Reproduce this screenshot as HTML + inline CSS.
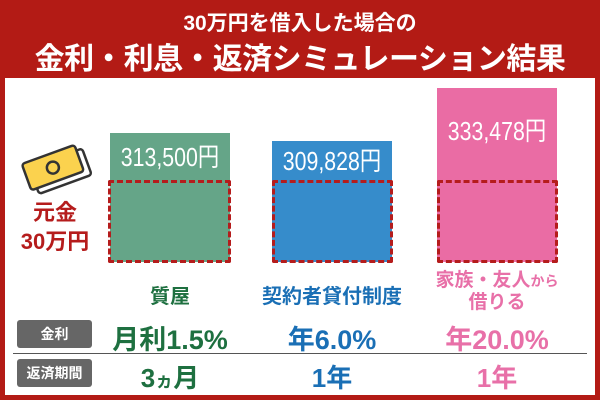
<!DOCTYPE html>
<html><head><meta charset="utf-8"><style>
body{margin:0;width:600px;height:400px;overflow:hidden;background:#b31b15;font-family:"Liberation Sans","Noto Sans CJK JP",sans-serif;font-weight:bold}
.a{position:absolute}
.t{color:#fff;text-align:center;width:600px;left:0}
.w{left:5px;top:78px;width:590px;height:317px;background:#fff}
.bar{position:absolute;color:#fff;font-weight:normal;font-size:22px;text-align:center}
.bar span{display:inline-block;transform:scaleX(0.82);font-size:26px}
.d{position:absolute;top:180px;height:77px;border:3px dashed #b51c1c;border-radius:2px}
.c{position:absolute;text-align:center;width:170px;white-space:nowrap}
.g{position:absolute;left:17px;width:75px;height:28px;background:#666;color:#fff;border-radius:3px;text-align:center;line-height:28px;font-size:14px}
.n{letter-spacing:-6px;margin-right:6px}
</style></head><body>
<div class="a t" style="top:7px;font-size:21px">30万円を借入した場合の</div>
<div class="a t" style="top:34px;font-size:30px;letter-spacing:-0.5px">金利<span class="n">・</span>利息<span class="n">・</span>返済シミュレーション結果</div>
<div class="a w"></div>
<div class="bar" style="left:110px;top:133px;width:120px;height:129px;background:#65a588;line-height:48px"><span>313,500円</span></div>
<div class="bar" style="left:272px;top:141px;width:120px;height:121px;background:#368ccb;line-height:40px"><span>309,828円</span></div>
<div class="bar" style="left:437px;top:88px;width:120px;height:174px;background:#ea6ca4;line-height:86px"><span>333,478円</span></div>
<div class="d" style="left:108px;width:117px"></div>
<div class="d" style="left:272px;width:115px"></div>
<div class="d" style="left:437px;width:115px"></div>
<svg class="a" style="left:18px;top:142px" width="80" height="56" viewBox="0 0 80 56">
<g transform="rotate(-20 40 28)"><rect x="14" y="16" width="56" height="28" rx="3" fill="#fff" stroke="#333" stroke-width="2.5"/>
<rect x="8" y="10" width="56" height="28" rx="3" fill="#fbd24e" stroke="#333" stroke-width="2.5"/>
<circle cx="36" cy="24" r="6" fill="none" stroke="#333" stroke-width="2.5"/></g></svg>
<div class="a" style="left:10px;top:198px;width:90px;text-align:center;color:#b51c1c;font-size:22px;line-height:29px">元金<br>30万円</div>
<div class="c" style="left:85px;top:280px;color:#1e7040;font-size:20px">質屋</div>
<div class="c" style="left:247px;top:280px;color:#1a6fb5;font-size:20px;width:170px">契約者貸付制度</div>
<div class="c" style="left:412px;top:270px;color:#e870a8;font-size:19px;line-height:22px">家族<span style="letter-spacing:-5px;margin-right:5px">・</span>友人<span style="font-size:14px">から</span><br>借りる</div>
<div class="g" style="top:320px">金利</div>
<div class="g" style="top:359px">返済期間</div>
<div class="a" style="left:13px;top:353px;width:574px;height:1px;background:#555"></div>
<div class="c" style="left:85px;top:318px;color:#1e7040;font-size:27px">月利1.5%</div>
<div class="c" style="left:247px;top:318px;color:#1a6fb5;font-size:27px">年6.0%</div>
<div class="c" style="left:412px;top:318px;color:#e870a8;font-size:27px">年20.0%</div>
<div class="c" style="left:85px;top:358px;color:#1e7040;font-size:26px">3<span style="font-size:18px">ヵ</span>月</div>
<div class="c" style="left:247px;top:358px;color:#1a6fb5;font-size:26px">1年</div>
<div class="c" style="left:412px;top:358px;color:#e870a8;font-size:26px">1年</div>
</body></html>
